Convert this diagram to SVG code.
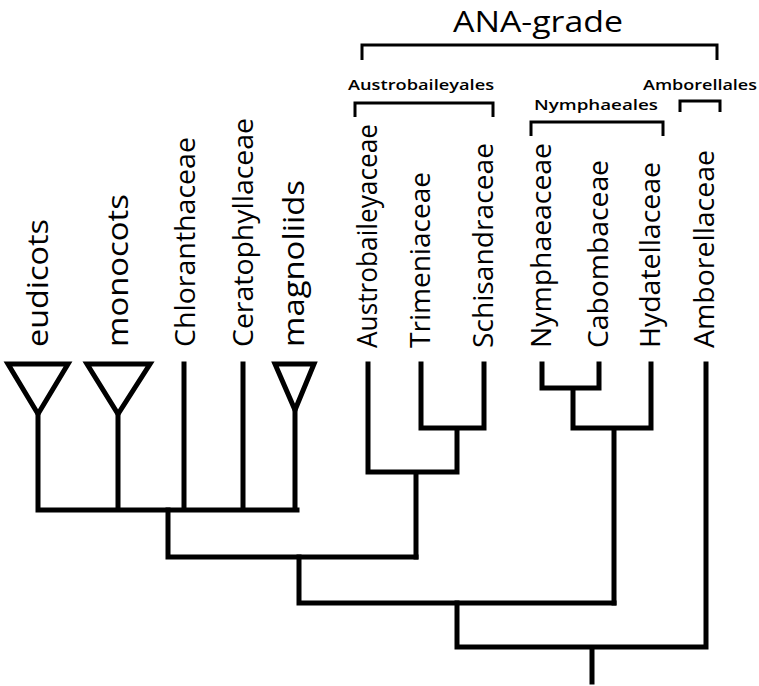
<svg xmlns="http://www.w3.org/2000/svg" width="759" height="686" viewBox="0 0 759 686">
<style>
.l{fill:none;stroke:#000;stroke-width:5;stroke-linecap:square;stroke-linejoin:miter}
.b{fill:none;stroke:#000;stroke-width:3}
.t{font-family:"Open Sans","DejaVu Sans",sans-serif;font-size:27px;fill:#000}
.s{font-family:"Open Sans","DejaVu Sans",sans-serif;font-size:14px;font-weight:600;fill:#000}
</style>
<rect width="759" height="686" fill="#fff"/>
<g id="eudicots"><polygon class="l" points="8,364 68,364 38,414"/><text class="t" style="font-size:30px" transform="translate(48,347) rotate(-90)" textLength="128" lengthAdjust="spacingAndGlyphs">eudicots</text></g>
<g id="monocots"><polygon class="l" points="87,364 150,364 118,414"/><text class="t" style="font-size:29px" transform="translate(128,347) rotate(-90)" textLength="153" lengthAdjust="spacingAndGlyphs">monocots</text></g>
<g id="chloranthaceae"><text class="t" transform="translate(195,347) rotate(-90)" textLength="210" lengthAdjust="spacingAndGlyphs">Chloranthaceae</text></g>
<g id="ceratophyllaceae"><text class="t" transform="translate(253,347) rotate(-90)" textLength="229" lengthAdjust="spacingAndGlyphs">Ceratophyllaceae</text></g>
<g id="magnoliids"><polygon class="l" points="275,364 314,364 295,410"/><text class="t" style="font-size:29px" transform="translate(304,347) rotate(-90)" textLength="167" lengthAdjust="spacingAndGlyphs">magnoliids</text></g>
<g id="austrobaileyaceae"><text class="t" transform="translate(377,348) rotate(-90)" textLength="224" lengthAdjust="spacingAndGlyphs">Austrobaileyaceae</text></g>
<g id="trimeniaceae"><text class="t" transform="translate(430,348) rotate(-90)" textLength="176" lengthAdjust="spacingAndGlyphs">Trimeniaceae</text></g>
<g id="schisandraceae"><text class="t" transform="translate(493,348) rotate(-90)" textLength="205" lengthAdjust="spacingAndGlyphs">Schisandraceae</text></g>
<g id="nymphaeaceae"><text class="t" transform="translate(551,348) rotate(-90)" textLength="205" lengthAdjust="spacingAndGlyphs">Nymphaeaceae</text></g>
<g id="cabombaceae"><text class="t" transform="translate(608,348) rotate(-90)" textLength="188" lengthAdjust="spacingAndGlyphs">Cabombaceae</text></g>
<g id="hydatellaceae"><text class="t" transform="translate(660,348) rotate(-90)" textLength="186" lengthAdjust="spacingAndGlyphs">Hydatellaceae</text></g>
<g id="amborellaceae"><text class="t" transform="translate(714,348) rotate(-90)" textLength="198" lengthAdjust="spacingAndGlyphs">Amborellaceae</text></g>
<g id="brackets">
<text x="538" y="32" text-anchor="middle" textLength="170" lengthAdjust="spacingAndGlyphs" style="font-family:'Open Sans','DejaVu Sans',sans-serif;font-size:30px">ANA-grade</text>
<path class="b" d="M362,60 V45 H717 V60"/>
<text class="s" x="421" y="90" text-anchor="middle" textLength="146" lengthAdjust="spacingAndGlyphs">Austrobaileyales</text>
<path class="b" d="M355,117 V103 H493 V117"/>
<text class="s" x="596" y="110" text-anchor="middle" textLength="124" lengthAdjust="spacingAndGlyphs">Nymphaeales</text>
<path class="b" d="M531,136 V122 H663 V136"/>
<text class="s" x="643" y="90" textLength="114" lengthAdjust="spacingAndGlyphs">Amborellales</text>
<path class="b" d="M680,112 V101 H720 V112"/>
</g>
<g id="connectors" class="l">
<path d="M38,414 V510 M118,414 V510 M184,364 V510 M243,364 V510 M295,410 V510 M38,510 H297"/>
<path d="M168,510 V557 H416"/>
<path d="M368,364 V472 H457 M421,364 V428 H484 V364 M457,428 V472 M416,472 V557"/>
<path d="M299,557 V603 H614"/>
<path d="M542,364 V388 H599 V364 M573,388 V428 H651 V364 M614,428 V603"/>
<path d="M457,603 V647 H706 V364 M592,647 V682"/>
</g>
</svg>
